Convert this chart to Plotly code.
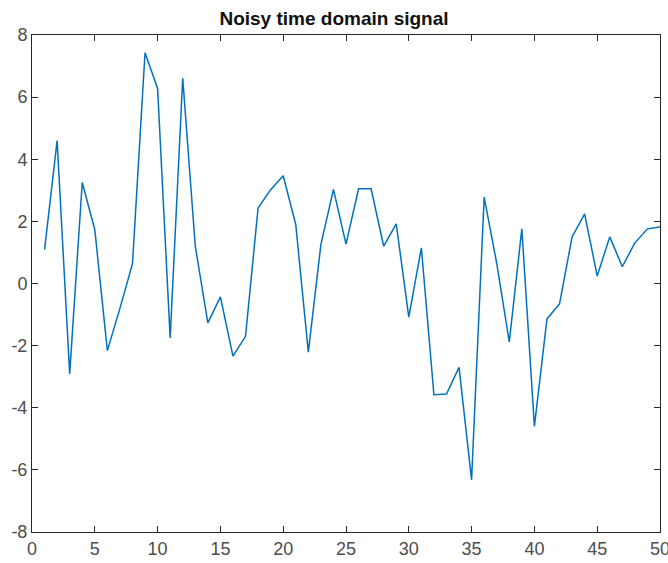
import plotly.graph_objects as go

x_vals = list(range(1, 51))
signal = [1.09, 4.60, -2.91, 3.25, 1.73, -2.16, -0.80, 0.64, 7.43, 6.28,
          -1.75, 6.61, 1.20, -1.27, -0.43, -2.34, -1.70, 2.43, 3.02, 3.47,
          1.90, -2.21, 1.25, 3.03, 1.27, 3.05, 3.05, 1.20, 1.92, -1.08,
          1.15, -3.58, -3.56, -2.70, -6.32, 2.78, 0.65, -1.88, 1.76, -4.60,
          -1.14, -0.66, 1.50, 2.24, 0.24, 1.50, 0.54, 1.31, 1.76, 1.82]
title_text = "Noisy time domain signal"
x_ticks = [0, 5, 10, 15, 20, 25, 30, 35, 40, 45, 50]
y_ticks = [-8, -6, -4, -2, 0, 2, 4, 6, 8]

fig = go.Figure()
fig.add_trace(go.Scatter(x=x_vals, y=signal, mode="lines",
                         line=dict(color="#0072BD", width=1.5),
                         showlegend=False, hoverinfo="skip"))

axis_common = dict(showgrid=False, zeroline=False, showline=True,
                   linecolor="#262626", linewidth=1, mirror="ticks",
                   ticks="inside", ticklen=6, tickcolor="#262626",
                   ticklabeloverflow="allow", automargin=False,
                   tickfont=dict(family="Liberation Sans, Arial", size=18, color="#4d4d4d"))

fig.update_layout(
    width=668, height=563,
    margin=dict(l=32, r=8, t=35, b=31),
    paper_bgcolor="white", plot_bgcolor="white",
    title=dict(text="<b>" + title_text + "</b>", x=0.5, xanchor="center",
               y=1 - 18 / 563, yanchor="middle",
               font=dict(family="Liberation Sans, Arial", size=19, color="#111111")),
    xaxis=dict(range=[0, 50], tickvals=x_ticks, ticktext=[str(v) for v in x_ticks], **axis_common),
    yaxis=dict(range=[-8, 8], tickvals=y_ticks, ticktext=[str(v) for v in y_ticks], **axis_common),
)
fig.write_html("out.html", config={"displayModeBar": False},
               post_script="document.body.style.margin='0';document.body.style.overflow='hidden';")
